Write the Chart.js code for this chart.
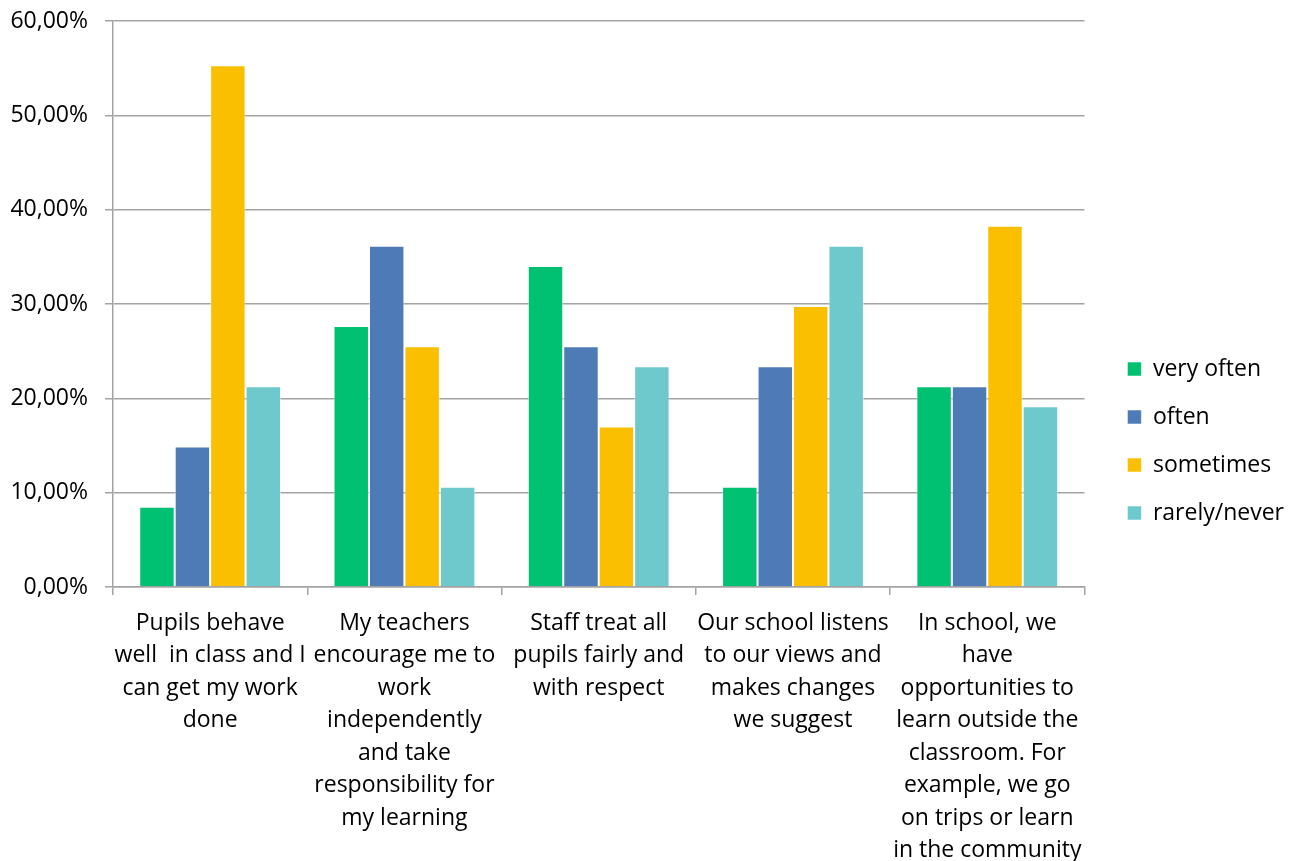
<!DOCTYPE html>
<html>
<head>
<meta charset="utf-8">
<script src="https://cdn.jsdelivr.net/npm/chart.js@4/dist/chart.umd.min.js"></script>
<style>
  html, body { margin: 0; padding: 0; background: #fff; }
  #wrap { width: 1294px; height: 861px; position: relative; }
</style>
</head>
<body>
<div id="wrap"><canvas id="c" width="1294" height="861"></canvas></div>
<script>
const categories = [
  ["Pupils behave", "well  in class and I", "can get my work", "done"],
  ["My teachers", "encourage me to", "work", "independently", "and take", "responsibility for", "my learning"],
  ["Staff treat all", "pupils fairly and", "with respect"],
  ["Our school listens", "to our views and", "makes changes", "we suggest"],
  ["In school, we", "have", "opportunities to", "learn outside the", "classroom. For", "example, we go", "on trips or learn", "in the community"]
];
const seriesNames = ["very often", "often", "sometimes", "rarely/never"];
const veryOften = [8.51, 27.66, 34.04, 10.64, 21.28];
const often = [14.89, 36.17, 25.53, 23.40, 21.28];
const sometimes = [55.32, 25.53, 17.02, 29.79, 38.30];
const rarelyNever = [21.28, 10.64, 23.40, 36.17, 19.15];
const yTicks = [0, 10, 20, 30, 40, 50, 60];
const colors = ["#00C072", "#4E7BB6", "#F9BF00", "#6DC9CC"];

const FONT = "'Open Sans', sans-serif";
const gridColor = "#a3a3a3";

const seriesData = [veryOften, often, sometimes, rarelyNever];
const datasets = seriesNames.map((name, i) => ({
  label: name,
  data: seriesData[i],
  backgroundColor: colors[i],
  borderColor: "rgba(255,255,255,0.55)",
  borderWidth: 1,
  categoryPercentage: 0.73,
  barPercentage: 1.0
}));

new Chart(document.getElementById("c"), {
  type: "bar",
  data: { labels: categories, datasets },
  options: {
    responsive: false,
    animation: false,
    devicePixelRatio: 1,
    layout: { padding: { top: 21, left: 0, bottom: 0, right: 0 } },
    plugins: {
      legend: {
        position: "right",
        align: "center",
        labels: {
          color: "#000",
          font: { family: FONT, size: 23 },
          boxWidth: 14,
          boxHeight: 14,
          padding: 25
        }
      },
      tooltip: { enabled: false }
    },
    scales: {
      x: {
        grid: {
          display: true,
          drawOnChartArea: false,
          drawTicks: true,
          tickLength: 8,
          color: gridColor,
          lineWidth: 1.5,
          offset: true
        },
        border: { display: true, color: gridColor, width: 1.5 },
        ticks: {
          color: "#000",
          font: { family: FONT, size: 23, lineHeight: 1.413 },
          maxRotation: 0,
          minRotation: 0,
          autoSkip: false,
          padding: 12
        },
        afterFit: (s) => { s.height = 274; }
      },
      y: {
        min: 0,
        max: 60,
        afterBuildTicks: (s) => { s.ticks = yTicks.map(v => ({ value: v })); },
        grid: {
          color: gridColor,
          lineWidth: 1.5,
          drawTicks: true,
          tickLength: 8
        },
        border: { display: true, color: gridColor, width: 1.5 },
        ticks: {
          color: "#000",
          font: { family: FONT, size: 23 },
          padding: 17,
          callback: (v) => Number(v).toFixed(2).replace(".", ",") + "%"
        },
        afterFit: (s) => { s.width = 113; s.paddingTop = 0; s.paddingBottom = 0; }
      },
      yPad: {
        position: "right",
        display: true,
        grid: { display: false, drawOnChartArea: false, drawTicks: false },
        border: { display: false },
        ticks: { display: false },
        afterFit: (s) => { s.width = 18; s.paddingTop = 0; s.paddingBottom = 0; }
      }
    }
  }
});
</script>
</body>
</html>
